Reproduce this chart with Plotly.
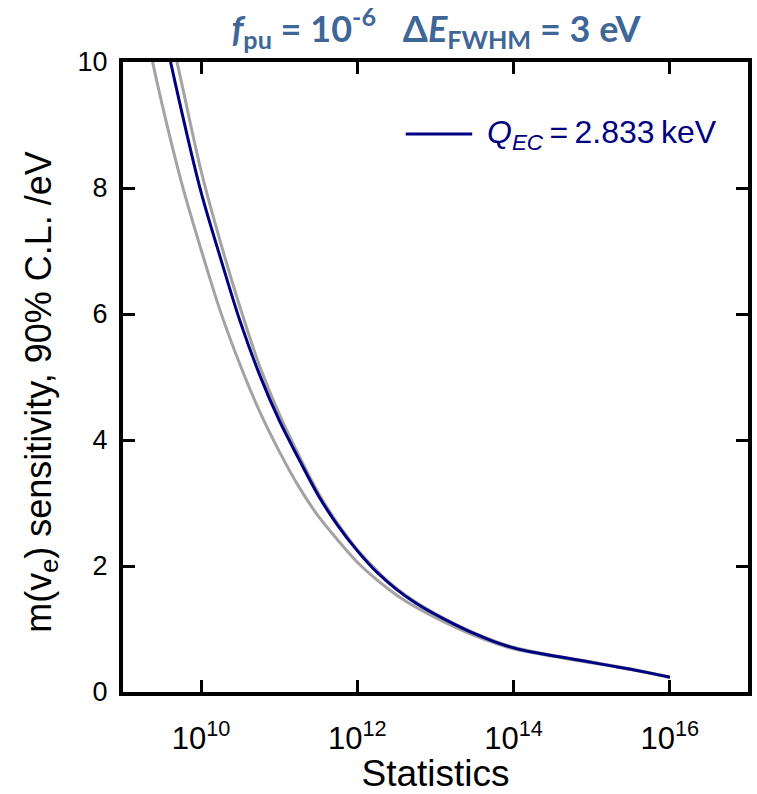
import plotly.graph_objects as go

# Neutrino-mass sensitivity (90% C.L., eV) versus total statistics.
# Central curve: Q_EC = 2.833 keV; the two grey curves bracket it.
blue_logn = [9.50, 9.75, 10.00, 10.25, 10.50, 10.75, 11.00, 11.25, 11.50, 11.75,
             12.00, 12.25, 12.50, 12.75, 13.00, 13.25, 13.50, 13.75, 14.00, 14.25,
             14.50, 14.75, 15.00, 15.25, 15.50, 15.75, 16.00]
blue_m = [10.62, 9.22, 7.93, 6.88, 5.88, 5.03, 4.31, 3.70, 3.12, 2.64,
          2.24, 1.90, 1.63, 1.41, 1.23, 1.07, 0.925, 0.80, 0.70, 0.63,
          0.575, 0.525, 0.47, 0.415, 0.36, 0.30, 0.235]

grey_low_logn = [9.30, 9.50, 9.75, 10.00, 10.25, 10.50, 10.75, 11.00, 11.25, 11.50,
                 11.75, 12.00, 12.25, 12.50, 12.75, 13.00, 13.25, 13.50, 13.75, 14.00,
                 14.50, 15.00, 15.50, 16.00]
grey_low_m = [10.45, 9.33, 8.08, 7.02, 6.03, 5.19, 4.45, 3.82, 3.26, 2.79,
              2.41, 2.06, 1.78, 1.54, 1.345, 1.18, 1.03, 0.895, 0.78, 0.685,
              0.567, 0.463, 0.355, 0.23]

grey_high_logn = [9.50, 9.75, 10.00, 10.25, 10.50, 10.75, 11.00, 11.25, 11.50, 11.75,
                  12.00, 12.50, 13.00, 13.50, 14.00, 14.50, 15.00, 15.50, 16.00]
grey_high_m = [11.08, 9.67, 8.27, 7.13, 6.10, 5.17, 4.41, 3.76, 3.16, 2.67,
               2.26, 1.645, 1.24, 0.935, 0.71, 0.58, 0.475, 0.365, 0.24]

x_tick_exp = [10, 12, 14, 16]
y_ticks = [0, 2, 4, 6, 8, 10]

NAVY = "#000080"
GREY = "#A3A3A3"
TITLE_BLUE = "#3E6797"
FONT = "Liberation Sans, Arial, sans-serif"

fig = go.Figure()
for logn, m in [(grey_low_logn, grey_low_m), (grey_high_logn, grey_high_m)]:
    fig.add_trace(go.Scatter(
        x=[10 ** v for v in logn], y=m, mode="lines",
        line=dict(color=GREY, width=3, shape="spline", smoothing=1.0),
        showlegend=False, hoverinfo="skip"))
fig.add_trace(go.Scatter(
    x=[10 ** v for v in blue_logn], y=blue_m, mode="lines",
    line=dict(color=NAVY, width=3, shape="spline", smoothing=1.0),
    showlegend=False))

axis_common = dict(showline=True, linecolor="black", linewidth=4, mirror="ticks",
                   ticks="inside", ticklen=12, tickwidth=3, tickcolor="black",
                   showgrid=False, zeroline=False)

fig.update_xaxes(type="log", range=[9, 17],
                 tickvals=[10 ** e for e in x_tick_exp],
                 ticktext=[f"10<sup>{e}</sup>" for e in x_tick_exp],
                 tickfont=dict(family=FONT, size=31, color="black"),
                 ticklabelstandoff=16,
                 title=dict(text="Statistics", standoff=4,
                            font=dict(family=FONT, size=37, color="black")),
                 **axis_common)
fig.update_yaxes(range=[0, 10], tickvals=y_ticks,
                 tickfont=dict(family=FONT, size=27, color="black"),
                 ticklabelstandoff=6,
                 **axis_common)

# y-axis title placed as a rotated annotation
fig.add_annotation(xref="paper", yref="paper", x=(40 - 123) / 630, y=(692 - 392) / 630,
                   xanchor="center", yanchor="middle", showarrow=False, textangle=-90,
                   text="m(v<sub>e</sub>) sensitivity, 90% C.L. /eV",
                   font=dict(family=FONT, size=36, color="black"))

# legend entry drawn by hand so the sample line has the right length
fig.add_shape(type="line", xref="paper", yref="paper",
              x0=(408 - 123) / 630, x1=(475 - 123) / 630,
              y0=(692 - 134) / 630, y1=(692 - 134) / 630,
              line=dict(color=NAVY, width=3))
fig.add_annotation(xref="paper", yref="paper", x=(488 - 123) / 630, y=(692 - 134) / 630,
                   xanchor="left", yanchor="middle", showarrow=False,
                   text="<i>Q</i><sub><i>EC</i></sub>\u2009=\u20092.833\u2009keV",
                   font=dict(family=FONT, size=32, color=NAVY))

fig.update_layout(
    width=757, height=794,
    margin=dict(l=123, r=5, t=62, b=102),
    paper_bgcolor="white", plot_bgcolor="white",
    title=dict(text="<i>f</i><sub>pu</sub> = 10<sup>-6</sup>\u2002 Δ<i>E</i><sub>FWHM</sub> = 3 eV",
               x=436 / 757, xanchor="center", y=1 - 29 / 794, yanchor="middle",
               font=dict(family="Lato, Open Sans", size=36, color=TITLE_BLUE, weight="bold")),
)

fig.write_html("out.html")
